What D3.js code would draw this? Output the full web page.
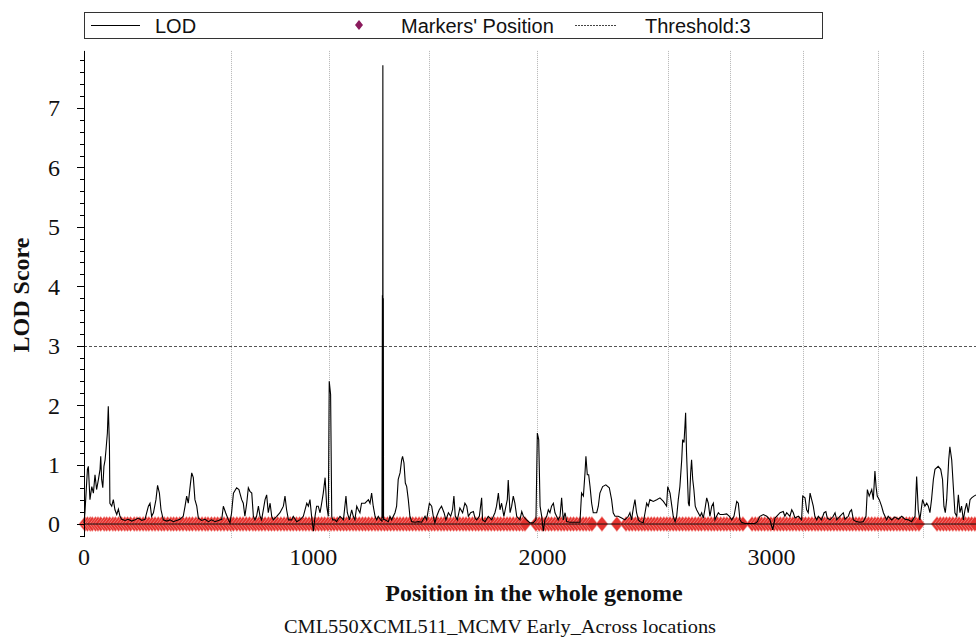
<!DOCTYPE html>
<html>
<head>
<meta charset="utf-8">
<script src="https://cdn.jsdelivr.net/npm/d3@7/dist/d3.min.js"></script>
<style>
  html, body { margin: 0; padding: 0; background: #fff; }
  svg { display: block; }
</style>
</head>
<body>
<svg id="chart" width="976" height="639"></svg>
<script>
// Genome-wide LOD profile (position in cM along the concatenated genome)
const lodPos = [
  0, 4, 9, 15, 19, 26, 34, 41, 48, 55, 63, 70, 73, 77, 82, 87, 92, 96, 102, 106, 111, 113,
  121, 128, 135, 143, 150, 157, 164, 179, 193, 208, 223, 237, 252, 266, 281, 288, 295, 303,
  314, 321, 329, 336, 346, 361, 375, 390, 404, 419, 433, 441, 448, 455, 463, 470, 477, 484,
  492, 499, 513, 528, 543, 557, 572, 586, 601, 608, 618, 630, 637, 644, 652, 666, 676, 688,
  695, 702, 710, 717, 724, 732, 739, 746, 753, 761, 768, 775, 790, 797, 804, 812, 819, 826,
  841, 855, 870, 877, 884, 892, 906, 913, 928, 942, 957, 972, 979, 986, 993, 1001, 1008,
  1015, 1022, 1030, 1037, 1044, 1052, 1059, 1066, 1070, 1076, 1081, 1085, 1095, 1102, 1117,
  1132, 1143, 1149, 1158, 1168, 1175, 1182, 1190, 1197, 1204, 1211, 1226, 1241, 1248, 1255,
  1262, 1270, 1277, 1284, 1294, 1300, 1302, 1303, 1304, 1305, 1306, 1307,
  1313, 1328, 1335, 1342, 1357, 1364, 1371, 1379, 1386, 1390, 1396, 1402, 1408, 1415, 1422,
  1430, 1444, 1459, 1473, 1488, 1495, 1507, 1517, 1524, 1531, 1539, 1550, 1560, 1571, 1579,
  1590, 1600, 1608, 1614, 1620, 1629, 1640, 1652, 1662, 1670, 1677, 1687, 1699, 1706, 1713,
  1725, 1735, 1739, 1750, 1764, 1779, 1793, 1800, 1808, 1815, 1822, 1832, 1841, 1847, 1851,
  1859, 1866, 1873, 1880, 1888, 1902, 1910, 1917, 1931, 1946, 1960, 1972, 1978, 1984, 1990,
  1997, 2004, 2011, 2019, 2026, 2033, 2040, 2048, 2055, 2062, 2069, 2077, 2084, 2091, 2099,
  2106, 2120, 2142, 2164, 2171, 2179, 2186, 2190, 2196, 2202, 2208, 2215, 2222, 2237, 2244,
  2251, 2263, 2277, 2292, 2302, 2309, 2317, 2331, 2346, 2360, 2375, 2382, 2389, 2397, 2404,
  2411, 2419, 2426, 2440, 2448, 2455, 2462, 2469, 2484, 2499, 2513, 2528, 2542, 2547, 2557,
  2571, 2579, 2586, 2593, 2600, 2608, 2612, 2618, 2622, 2625, 2629, 2637, 2641, 2647, 2651,
  2656, 2661, 2667, 2673, 2680, 2688, 2695, 2702, 2709, 2717, 2724, 2731, 2739, 2746, 2753,
  2760, 2768, 2775, 2789, 2804, 2816, 2826, 2836, 2848, 2855, 2862, 2869, 2884, 2906, 2928,
  2938, 2949, 2964, 2979, 2993, 3005, 3015, 3022, 3037, 3051, 3058, 3066, 3080, 3088, 3095,
  3102, 3117, 3131, 3136, 3146, 3153, 3160, 3168, 3175, 3182, 3189, 3197, 3204, 3218, 3229,
  3237, 3243, 3255, 3269, 3277, 3284, 3298, 3313, 3320, 3335, 3342, 3349, 3357, 3371, 3386,
  3400, 3412, 3418, 3426, 3437, 3444, 3451, 3456, 3461, 3470, 3480, 3488, 3495, 3502, 3509,
  3524, 3538, 3553, 3568, 3582, 3597, 3611, 3626, 3633, 3640, 3647, 3655, 3659, 3669, 3677,
  3684, 3691, 3698, 3706, 3713, 3727, 3738, 3746, 3752, 3758, 3764, 3773, 3778, 3786, 3793,
  3800, 3808, 3815, 3822, 3829, 3837, 3844, 3851, 3858, 3866, 3873, 3883, 3892
];
const lodVal = [
  0.02, 0.19, 0.52, 0.92, 0.97, 0.41, 0.63, 0.52, 0.83, 0.58, 0.75, 0.92, 1.14, 0.75, 0.61, 0.97, 1.08, 1.25, 1.53, 1.98, 1.31, 0.35,
  0.30, 0.41, 0.24, 0.16, 0.25, 0.13, 0.08, 0.06, 0.08, 0.05, 0.07, 0.10, 0.06, 0.08, 0.30, 0.35, 0.13, 0.19,
  0.41, 0.65, 0.52, 0.24, 0.07, 0.05, 0.07, 0.04, 0.06, 0.08, 0.13, 0.30, 0.47, 0.35, 0.63, 0.86, 0.78, 0.41,
  0.30, 0.10, 0.06, 0.08, 0.04, 0.07, 0.04, 0.06, 0.08, 0.30, 0.19, 0.07, 0.02, 0.19, 0.52, 0.61, 0.58, 0.41,
  0.35, 0.13, 0.35, 0.61, 0.55, 0.52, 0.13, 0.07, 0.13, 0.30, 0.13, 0.07, 0.41, 0.49, 0.19, 0.35, 0.13, 0.07,
  0.13, 0.19, 0.30, 0.47, 0.24, 0.07, 0.07, 0.13, 0.04, 0.07, 0.13, 0.35, 0.30, 0.41, 0.13, -0.12, 0.13,
  0.30, 0.30, 0.19, 0.35, 0.52, 0.78, 0.30, 0.13, 2.40, 2.18, 0.13, 0.07, 0.07, 0.04, 0.13,
  0.07, 0.47, 0.19, 0.07, 0.24, 0.13, 0.07, 0.30, 0.24, 0.19, 0.35, 0.35, 0.41, 0.35, 0.52,
  0.30, 0.13, 0.07, 0.13, 0.07, 0.05, 3.85, 0.10, 7.72, 0.15, 3.80, 0.08,
  0.07, 0.04, 0.13, 0.07, 0.19, 0.30, 0.75, 0.86, 1.08, 1.14, 1.03, 0.69, 0.63, 0.41, 0.13,
  0.04, 0.03, 0.04, 0.03, 0.13, 0.07, 0.35, 0.30, 0.13, 0.02, 0.13, 0.24, 0.30, 0.19, 0.07,
  0.19, 0.13, 0.24, 0.47, 0.13, 0.07, 0.27, 0.19, 0.35, 0.30, 0.13, 0.19, 0.21, 0.10, 0.07,
  0.13, 0.44, 0.07, 0.04, 0.13, 0.07, 0.19, 0.30, 0.52, 0.24, 0.35, 0.13, 0.30, 0.41, 0.74,
  0.19, 0.30, 0.47, 0.35, 0.13, 0.07, 0.21, 0.13, 0.07, 0.02, 0.02, 0.07, 1.53, 1.42, 0.30,
  0.13, -0.12, 0.07, 0.13, 0.24, 0.19, 0.30, 0.35, 0.19, 0.13, 0.07, 0.13, 0.44, 0.07, 0.19,
  0.04, 0.03, 0.03, 0.03, 0.52, 0.47, 0.86, 1.14, 0.83, 0.83, 0.63, 0.35, 0.19, 0.19, 0.30,
  0.52, 0.63, 0.66, 0.61, 0.41, 0.19, 0.13, 0.13, 0.10, 0.07, 0.13, 0.19, 0.07, 0.27, 0.41,
  0.19, 0.07, 0.04, 0.02, 0.19, 0.35, 0.30, 0.41, 0.38, 0.41, 0.44, 0.38, 0.30, 0.63, 0.52,
  0.13, 0.04, 0.13, 0.41, 0.63, 1.08, 1.42, 1.37, 1.65, 1.87, 1.20, 0.35, 0.30, 0.86, 1.08,
  0.75, 0.58, 0.30, 0.24, 0.19, 0.13, 0.19, 0.10, 0.24, 0.44, 0.35, 0.13, 0.30, 0.35, 0.07,
  0.13, 0.19, 0.16, 0.16, 0.17, 0.13, 0.07, 0.13, 0.38, 0.35, 0.07, 0.03, 0.01, 0.01, 0.01,
  0.04, 0.13, 0.16, 0.13, 0.07, -0.10, 0.10, 0.13, 0.19, 0.21, 0.13, 0.19, 0.13, 0.24, 0.19,
  0.10, 0.13, 0.07, 0.47, 0.44, 0.24, 0.19, 0.52, 0.41, 0.30, 0.13, 0.07, 0.13, 0.07, 0.19,
  0.21, 0.10, 0.07, 0.13, 0.19, 0.07, 0.13, 0.19, 0.08, 0.13, 0.21, 0.24, 0.07, 0.04, 0.03,
  0.04, 0.13, 0.58, 0.47, 0.58, 0.41, 0.89, 0.63, 0.47, 0.41, 0.30, 0.19, 0.13, 0.07, 0.13,
  0.07, 0.12, 0.08, 0.13, 0.08, 0.07, 0.04, 0.13, 0.80, 0.24, 0.07, 0.30, 0.41, 0.30, 0.35,
  0.30, 0.19, 0.41, 0.75, 0.92, 0.97, 0.92, 0.75, 0.30, 0.19, 0.41, 1.08, 1.30, 1.08, 0.63,
  0.19, 0.13, 0.49, 0.19, 0.30, 0.07, 0.24, 0.35, 0.19, 0.41, 0.44, 0.47, 0.49
];

// Marker positions (cM) on the concatenated genome
const markerPos = [
  4, 15, 27, 36, 50, 61, 73, 88, 99, 112, 126, 137, 151, 164, 178, 190, 203, 219, 231, 244,
  258, 271, 283, 297, 310, 324, 338, 350, 365, 379, 391, 404, 418, 432, 447, 460, 473, 488,
  501, 515, 529, 541, 556, 570, 583, 597, 611, 626, 640, 652, 667, 681, 694, 708, 722, 737,
  749, 763, 776, 790, 805, 818, 831, 845, 859, 873, 886, 900, 913, 927, 941, 955, 968, 982,
  996, 1010, 1023, 1037, 1050, 1064, 1078, 1091, 1105, 1119, 1133, 1146, 1160, 1174, 1187,
  1201, 1215, 1228, 1242, 1256, 1270, 1283, 1297, 1311, 1324, 1338, 1352, 1366, 1379, 1393,
  1407, 1420, 1434, 1448, 1462, 1475, 1489, 1503, 1517, 1530, 1544, 1558, 1571, 1585, 1599,
  1613, 1626, 1640, 1654, 1667, 1681, 1695, 1709, 1722, 1736, 1750, 1763, 1777, 1791, 1805,
  1818, 1832, 1846, 1859, 1873, 1887, 1900, 1914, 1924,
  1972, 1986, 1999, 2013, 2027, 2040, 2054, 2068, 2082, 2095, 2109, 2123, 2136, 2150, 2164,
  2178, 2191, 2205, 2216,
  2260, 2325,
  2365, 2379, 2392, 2406, 2420, 2434, 2447, 2461, 2475, 2488, 2502, 2516, 2530, 2543, 2557,
  2571, 2584, 2598, 2612, 2626, 2639, 2653, 2667, 2681, 2694,
  2709, 2723, 2737, 2750, 2764, 2778, 2792, 2805, 2819, 2833, 2847, 2861, 2875,
  2915, 2929, 2942, 2956, 2970, 2984, 2997, 3011, 3025, 3038, 3052, 3066, 3080, 3093, 3107,
  3121, 3135, 3148, 3162, 3176, 3190, 3203, 3217, 3231, 3245, 3258, 3272, 3286, 3299, 3313,
  3327, 3341, 3354, 3368, 3382, 3396, 3409, 3423, 3437, 3451, 3464, 3478, 3492, 3505, 3519,
  3533, 3547, 3560, 3574, 3588, 3602, 3615, 3629, 3643,
  3722, 3736, 3750, 3763, 3777, 3791, 3805, 3818, 3832, 3846, 3860, 3873, 3887
];

// Chromosome boundaries (cM)
const chromBounds = [642, 1070, 1507, 1978, 2546, 2817, 3135, 3463, 3659];

const xTickValues = [0, 1000, 2000, 3000];
const yTickValues = [0, 1, 2, 3, 4, 5, 6, 7];
const threshold = 3;

const legendItems = ["LOD", "Markers' Position", "Threshold:" + threshold];
const xTitle = "Position in the whole genome";
const yTitle = "LOD Score";
const caption = "CML550XCML511_MCMV Early_Across locations";

const svg = d3.select("#chart");
const plotLeft = 84, plotRight = 976, plotTop = 50.9, plotBottom = 537.1;

const x = d3.scaleLinear().domain([0, 3892]).range([plotLeft, plotRight]);
const y = d3.scaleLinear().domain([-0.22, 7.96]).range([plotBottom, plotTop]);

const serif = "'Liberation Serif', 'Times New Roman', serif";
const sans = "'Liberation Sans', Arial, sans-serif";

// chromosome boundary grid lines
svg.append("g").selectAll("line").data(chromBounds).join("line")
  .attr("x1", d => Math.round(x(d)) + 0.5).attr("x2", d => Math.round(x(d)) + 0.5)
  .attr("y1", y(7.96)).attr("y2", y(-0.25))
  .attr("stroke", "#b4b4b4").attr("stroke-width", 1)
  .attr("stroke-dasharray", "1,1");

// threshold line
svg.append("line")
  .attr("x1", x(0)).attr("x2", plotRight)
  .attr("y1", Math.round(y(threshold)) + 0.5).attr("y2", Math.round(y(threshold)) + 0.5)
  .attr("stroke", "#555").attr("stroke-width", 1)
  .attr("stroke-dasharray", "3,2");

// markers
const diamond = "M0,-7.5L6,0L0,7.5L-6,0Z";
svg.append("g").selectAll("path").data(markerPos).join("path")
  .attr("d", diamond)
  .attr("transform", d => `translate(${x(d)},${y(0)})`)
  .attr("fill", "#e6332f")
  .attr("stroke", "#f5a3a0")
  .attr("stroke-width", 0.6);

// zero baseline
svg.append("line")
  .attr("x1", x(0)).attr("x2", plotRight)
  .attr("y1", y(0)).attr("y2", y(0))
  .attr("stroke", "#111").attr("stroke-width", 1);

// LOD curve
const lodData = lodPos.map((p, i) => [p, lodVal[i]]);
svg.append("path")
  .datum(lodData)
  .attr("d", d3.line().x(d => x(d[0])).y(d => y(d[1])))
  .attr("fill", "none")
  .attr("stroke", "#000")
  .attr("stroke-width", 1.1)
  .attr("stroke-linejoin", "miter");

// y axis
const yAxis = svg.append("g").attr("transform", `translate(${plotLeft},0)`);
yAxis.append("line").attr("x1", 0.5).attr("x2", 0.5)
  .attr("y1", plotTop).attr("y2", y(-0.22)).attr("stroke", "#000");
const minor = d3.range(-1, 40).map(i => i * 0.2).filter(v => Math.abs(v - Math.round(v)) > 1e-6);
yAxis.selectAll("line.minor").data(minor).join("line").attr("class", "minor")
  .attr("x1", -4).attr("x2", 0)
  .attr("y1", d => Math.round(y(d)) + 0.5).attr("y2", d => Math.round(y(d)) + 0.5)
  .attr("stroke", "#000");
yAxis.selectAll("line.major").data(yTickValues).join("line").attr("class", "major")
  .attr("x1", -7).attr("x2", 0)
  .attr("y1", d => Math.round(y(d)) + 0.5).attr("y2", d => Math.round(y(d)) + 0.5)
  .attr("stroke", "#000");
yAxis.selectAll("text").data(yTickValues).join("text")
  .attr("x", -24).attr("y", d => y(d)).attr("dy", "0.35em")
  .attr("text-anchor", "end")
  .style("font-family", serif).style("font-size", "24px").attr("fill", "#111")
  .text(d => d);

// x tick labels
svg.append("g").selectAll("text").data(xTickValues).join("text")
  .attr("x", d => x(d)).attr("y", 565)
  .attr("text-anchor", "middle")
  .style("font-family", serif).style("font-size", "24px").attr("fill", "#111")
  .text(d => d);

// axis titles
svg.append("text")
  .attr("transform", `translate(29,295) rotate(-90)`)
  .attr("text-anchor", "middle")
  .style("font-family", serif).style("font-size", "24px").style("font-weight", "bold")
  .attr("fill", "#111")
  .text(yTitle);

svg.append("text")
  .attr("x", 534).attr("y", 601)
  .attr("text-anchor", "middle")
  .style("font-family", serif).style("font-size", "24px").style("font-weight", "bold")
  .attr("fill", "#111")
  .text(xTitle);

svg.append("text")
  .attr("x", 500).attr("y", 633)
  .attr("text-anchor", "middle")
  .attr("textLength", 432).attr("lengthAdjust", "spacingAndGlyphs")
  .style("font-family", serif).style("font-size", "18px")
  .attr("fill", "#111")
  .text(caption);

// legend
const lg = svg.append("g");
lg.append("rect").attr("x", 84.5).attr("y", 12.5).attr("width", 738).attr("height", 26)
  .attr("fill", "#fff").attr("stroke", "#333").attr("stroke-width", 1);
lg.append("line").attr("x1", 91).attr("x2", 140).attr("y1", 25.5).attr("y2", 25.5)
  .attr("stroke", "#000").attr("stroke-width", 1);
lg.append("text").attr("x", 155).attr("y", 32.5)
  .style("font-family", sans).style("font-size", "20px").attr("fill", "#111")
  .text(legendItems[0]);
lg.append("path").attr("d", "M0,-5L4,0L0,5L-4,0Z")
  .attr("transform", "translate(359,25)").attr("fill", "#8a1a5c");
lg.append("text").attr("x", 401).attr("y", 32.5)
  .style("font-family", sans).style("font-size", "20px").attr("fill", "#111")
  .text(legendItems[1]);
lg.append("line").attr("x1", 575).attr("x2", 616).attr("y1", 25.5).attr("y2", 25.5)
  .attr("stroke", "#444").attr("stroke-width", 1).attr("stroke-dasharray", "2,1");
lg.append("text").attr("x", 645).attr("y", 32.5)
  .style("font-family", sans).style("font-size", "20px").attr("fill", "#111")
  .text(legendItems[2]);
</script>
</body>
</html>
